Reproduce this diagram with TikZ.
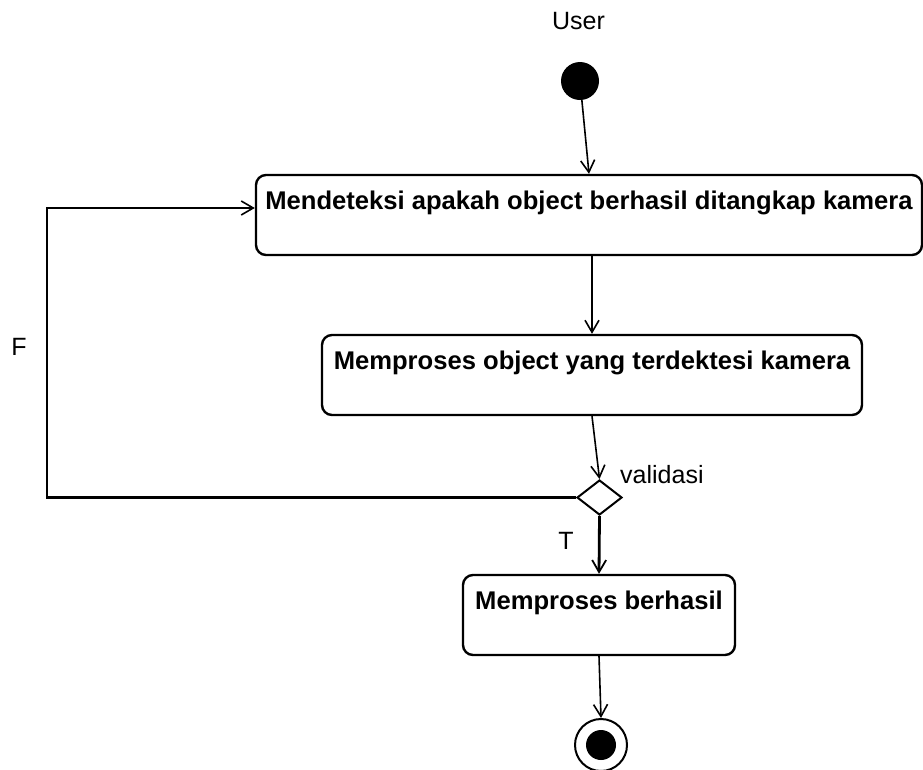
\documentclass[tikz,border=0pt]{standalone}
\usepackage{fontspec}
\setmainfont{Liberation Sans}
\usetikzlibrary{arrows.meta,shapes.geometric,calc}

\begin{document}
\begin{tikzpicture}[x=1pt,y=-1pt,
  actbox/.style={draw, rounded corners=10pt, line width=2.4pt, inner sep=0pt,
    text height=34pt, text depth=46pt, minimum height=80pt,
    font=\fontsize{25.6}{28}\selectfont\bfseries},
  flow/.style={line width=1.6pt, -{Straight Barb[length=12pt,width=14pt,line width=1.6pt]}},
  strongflow/.style={line width=2.8pt, -{Straight Barb[length=12pt,width=14pt,line width=1.8pt]}},
  loopline/.style={line width=2.2pt, -{Straight Barb[length=12pt,width=14pt,line width=1.6pt]}},
  lbl/.style={inner sep=0pt, font=\fontsize{25}{28}\selectfont},
  decision/.style={diamond, draw, line width=2pt, inner sep=0pt,
    minimum width=45pt, minimum height=35pt}
]
\useasboundingbox[fill=white] (0,0) rectangle (923,769);

% start and end states
\node[circle, fill=black, inner sep=0pt, minimum size=38pt] (init) at (580,81) {};
\node[lbl] (user) at (578.5,21.5) {User};

\node[circle, draw, line width=2pt, inner sep=0pt, minimum size=52pt] (final) at (601,745) {};
\node[circle, fill=black, inner sep=0pt, minimum size=30pt] (finaldot) at (final.center) {};

% activities
\node[actbox, minimum width=666pt] (detect) at (589,215)
  {Mendeteksi apakah object berhasil ditangkap kamera};
\node[actbox, minimum width=540pt] (process) at (592,375)
  {Memproses object yang terdektesi kamera};
\node[actbox, minimum width=272pt] (success) at (599,615)
  {Memproses berhasil};

% decision
\node[decision] (check) at (599.5,497.5) {};
\node[lbl, anchor=west] (checklbl) at (620,475) {validasi};

% loop-back corner
\coordinate (loopx) at (47,0);

% connectors
\draw[flow] (init) -- (detect.north);
\draw[flow] (process.north |- detect.south) -- (process.north);
\draw[flow] (process.south) -- (check.north);
\draw[strongflow] (check.south) -- (success.north);
\draw[flow] (success.south) -- (final.north);
\draw[loopline] (check.west) -- (check.west -| loopx)
  |- ($(detect.west)+(0,-7)$);

% guard labels
\node[lbl] (flabel) at (19,347) {F};
\node[lbl] (tlabel) at (566,541) {T};
\end{tikzpicture}
\end{document}
